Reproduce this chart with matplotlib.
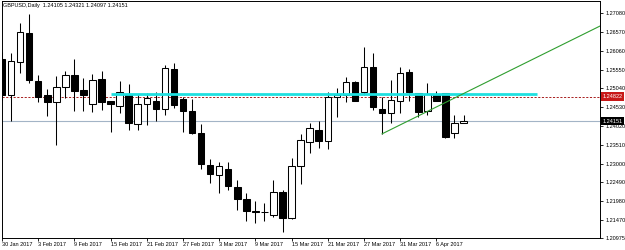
import matplotlib.pyplot as plt
import matplotlib.transforms as mtransforms

plt.rcParams['font.family'] = ['Liberation Sans', 'DejaVu Sans']

header = "GBPUSD,Daily  1.24105 1.24321 1.24097 1.24151"

# daily candles, 30 Jan 2017 .. 11 Apr 2017 (trading days)
opens = [1.25842, 1.24866, 1.25760, 1.26546, 1.25245, 1.24866, 1.24676, 1.25083, 1.25408, 1.25001,
         1.24622, 1.25300, 1.24703, 1.24568, 1.24893, 1.24080, 1.24622, 1.24703, 1.24487, 1.25571,
         1.24758, 1.24433, 1.23836, 1.22969, 1.22698, 1.22861, 1.22373, 1.22048, 1.21704, 1.21700,
         1.21614, 1.22237, 1.21533, 1.22942, 1.23593, 1.23917, 1.23620, 1.24812, 1.24866, 1.25218,
         1.24947, 1.25625, 1.24487, 1.24378, 1.24703, 1.25489, 1.24920, 1.24433, 1.24866, 1.24920,
         1.23836, 1.24105]
highs = [1.26031, 1.26004, 1.26817, 1.27061, 1.25408, 1.25029, 1.25381, 1.25516, 1.25842, 1.25327,
         1.25435, 1.25516, 1.24710, 1.25245, 1.25164, 1.24893, 1.24920, 1.24947, 1.25679, 1.25733,
         1.24812, 1.24758, 1.24080, 1.23132, 1.23051, 1.23051, 1.22562, 1.22210, 1.21994, 1.21939,
         1.22562, 1.22291, 1.23159, 1.23809, 1.24107, 1.24162, 1.24947, 1.25056, 1.25354, 1.25230,
         1.26167, 1.26004, 1.24812, 1.25272, 1.25625, 1.25571, 1.24930, 1.25191, 1.24974, 1.24930,
         1.24324, 1.24321]
lows = [1.24730, 1.24162, 1.25462, 1.25191, 1.24676, 1.24297, 1.23511, 1.24785, 1.24433, 1.24433,
        1.24405, 1.24460, 1.23863, 1.24378, 1.23917, 1.23917, 1.24053, 1.24162, 1.24324, 1.24514,
        1.23863, 1.23809, 1.22861, 1.22481, 1.22210, 1.22291, 1.21750, 1.21451, 1.21397, 1.21451,
        1.21560, 1.21153, 1.21506, 1.22454, 1.23295, 1.23430, 1.23403, 1.24270, 1.24676, 1.24700,
        1.24866, 1.24460, 1.23809, 1.24107, 1.24378, 1.24703, 1.24270, 1.24324, 1.24700, 1.23700,
        1.23701, 1.24097]
closes = [1.24866, 1.25787, 1.26573, 1.25272, 1.24812, 1.24676, 1.25083, 1.25408, 1.24974, 1.24866,
          1.25272, 1.24676, 1.24622, 1.24947, 1.24107, 1.24622, 1.24785, 1.24487, 1.25598, 1.24595,
          1.24433, 1.23836, 1.22996, 1.22725, 1.22942, 1.22400, 1.22048, 1.21722, 1.21687, 1.21695,
          1.22237, 1.21533, 1.22942, 1.23647, 1.23972, 1.23620, 1.24812, 1.24866, 1.25218, 1.24710,
          1.25625, 1.24541, 1.24378, 1.24730, 1.25462, 1.24947, 1.24405, 1.24893, 1.24703, 1.23728,
          1.24110, 1.24151]

date_labels = ["30 Jan 2017", "3 Feb 2017", "9 Feb 2017", "15 Feb 2017", "21 Feb 2017",
               "27 Feb 2017", "3 Mar 2017", "9 Mar 2017", "15 Mar 2017", "21 Mar 2017",
               "27 Mar 2017", "31 Mar 2017", "6 Apr 2017"]
date_bars = [0, 4, 8, 12, 16, 20, 24, 28, 32, 36, 40, 44, 48]

price_ticks = [1.27080, 1.26570, 1.26060, 1.25550, 1.25040, 1.24530, 1.24020,
               1.23510, 1.23000, 1.22490, 1.21980, 1.21470, 1.20975]

bid_price = 1.24151
alert_price = 1.24822
level_price = 1.24885
level_bars = [12, 59.1]
trend_x = [42, 66.1]
trend_y = [1.23809, 1.26736]

fig = plt.figure(figsize=(6.25, 2.5), dpi=100)
ax = fig.add_axes([1.7 / 625, (250 - 238.3) / 250, (600 - 1.7) / 625, (238.3 - 1) / 250])
ax.set_xlim(-0.033, 66.08)
ax.set_ylim(1.20975, 1.27413)

# horizontal objects
ax.axhline(bid_price, color='#a3b4c6', lw=0.8, zorder=1)
ax.axhline(alert_price, color='#a82020', lw=0.7, ls=(0, (2.2, 1.6)), zorder=1)

# candles
xs = range(len(opens))
ax.vlines(xs, lows, highs, color='black', lw=0.75, zorder=2)
for x, o, c in zip(xs, opens, closes):
    bull = c >= o
    ax.bar(x, abs(c - o), bottom=min(o, c), width=0.72,
           facecolor='white' if bull else 'black', edgecolor='black', lw=0.75, zorder=3)

ax.hlines(level_price, level_bars[0], level_bars[1], color='#1fe0e0', lw=2.0, zorder=4)
ax.plot(trend_x, trend_y, color='#2f9e2f', lw=0.8, zorder=4)

# axes styling
for s in ax.spines.values():
    s.set_color('black')
    s.set_linewidth(0.7)
ax.yaxis.tick_right()
ax.set_yticks(price_ticks, [f"{p:.5f}" for p in price_ticks], fontsize=4)
ax.tick_params(axis='y', length=2, width=0.6, pad=2)
ax.set_xticks(date_bars, date_labels, fontsize=4, ha='left')
ax.tick_params(axis='x', length=2, width=0.6, pad=1)

trans = mtransforms.blended_transform_factory(ax.transAxes, ax.transData)
for price, col in [(alert_price, '#c81818'), (bid_price, 'black')]:
    ax.text(1.004, price, f"{price:.5f}", transform=trans, ha='left', va='center',
            fontsize=4, color='white', clip_on=False, zorder=10,
            bbox=dict(boxstyle='square,pad=0.3', fc=col, ec='none'))

fig.text(3 / 625, 1 - 2.5 / 250, header, ha='left', va='top', fontsize=4)

fig.savefig('out.png', dpi=100)
